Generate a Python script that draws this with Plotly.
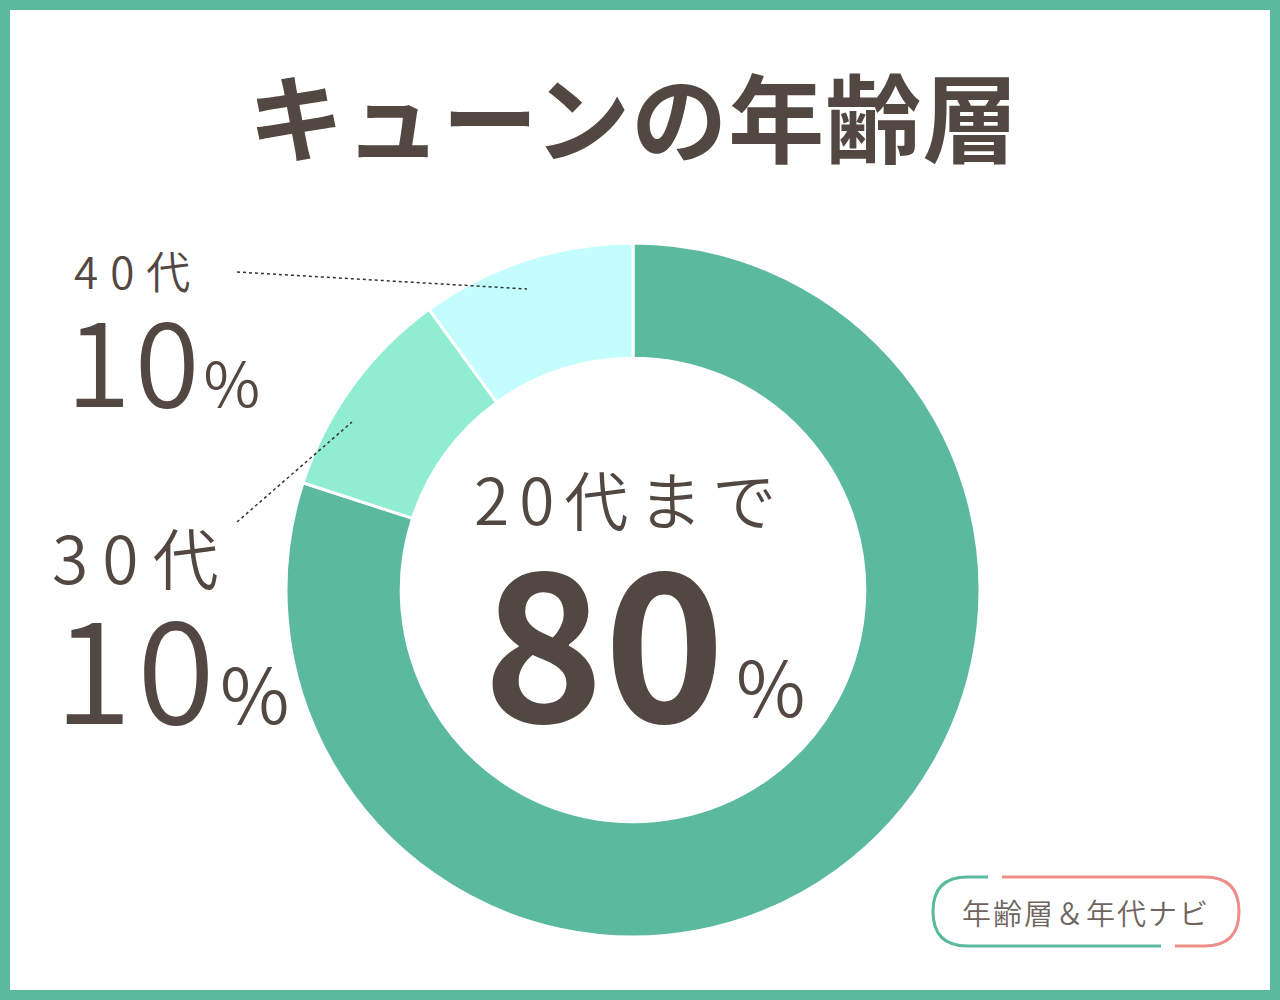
import plotly.graph_objects as go

# データ
labels = ["20代まで", "30代", "40代"]
values = [80, 10, 10]
colors = ["#5bba9d", "#90edd0", "#c3fdfd"]

title = "キューンの年齢層"
badge = "年齢層＆年代ナビ"

W, H = 1280, 1000
BROWN = "#524741"
FONT = "Noto Sans CJK JP"
LIGHT = 350

def px(x):
    return x / W

def py(y):
    return 1 - y / H

cx, cy, r = 633, 590, 347

fig = go.Figure(go.Pie(
    labels=labels, values=values,
    marker=dict(colors=colors, line=dict(color="white", width=3)),
    hole=0.668, sort=False, direction="clockwise", rotation=0,
    textinfo="none", hoverinfo="label+percent",
    domain=dict(x=[px(cx - r), px(cx + r)], y=[py(cy + r), py(cy - r)]),
))

def sp(text, ls):
    return f"<span style='letter-spacing:{ls}px'>{text}</span>"

anns = []
# タイトル
anns.append(dict(x=px(633), y=py(114), text=f"<b>{sp(title, 1)}</b>",
                 font=dict(size=96, color=BROWN, family=FONT)))

# 中央ラベル
anns.append(dict(x=px(630), y=py(497), text=sp(labels[0], 10),
                 font=dict(size=64, color=BROWN, family=FONT, weight=LIGHT)))
anns.append(dict(x=px(604), y=py(632), text=f"<b>{values[0]}</b>",
                 font=dict(size=205, color=BROWN, family=FONT)))
anns.append(dict(x=px(734), y=py(684), xanchor="left", text="%",
                 font=dict(size=76, color=BROWN, family=FONT, weight=LIGHT)))

# 40代
anns.append(dict(x=px(72), y=py(270), xanchor="left", text=sp(labels[2], 12),
                 font=dict(size=44, color=BROWN, family=FONT, weight=LIGHT)))
anns.append(dict(x=px(64), y=py(355), xanchor="left",
                 text=sp(f"{values[2]}", 4) + "<span style='font-size:62px'>%</span>",
                 font=dict(size=118, color=BROWN, family=FONT, weight=LIGHT)))

# 30代
anns.append(dict(x=px(50), y=py(555), xanchor="left", text=sp(labels[1], 14),
                 font=dict(size=66, color=BROWN, family=FONT, weight=LIGHT)))
anns.append(dict(x=px(52), y=py(662), xanchor="left",
                 text=sp(f"{values[1]}", 5) + "<span style='font-size:76px'>%</span>",
                 font=dict(size=142, color=BROWN, family=FONT, weight=LIGHT)))

# バッジ
anns.append(dict(x=px(1086), y=py(912), text=sp(badge, 2),
                 font=dict(size=29, color="#6f6560", family=FONT, weight=LIGHT)))

for a in anns:
    a.setdefault("xanchor", "center")
    a.update(xref="paper", yref="paper", showarrow=False, yanchor="middle")

shapes = []
# 引き出し線
shapes.append(dict(type="line", xref="paper", yref="paper",
                   x0=px(237), y0=py(272), x1=px(527), y1=py(289),
                   line=dict(color="#333", width=1.5, dash="dot")))
shapes.append(dict(type="line", xref="paper", yref="paper",
                   x0=px(237), y0=py(522), x1=px(352), y1=py(422),
                   line=dict(color="#333", width=1.5, dash="dot")))

# バッジ枠 (左:緑, 右:ピンク)
bx0, bx1, by0, by1 = 933, 1239, 877, 946
br = (by1 - by0) / 2
def P(x, y):
    return f"{px(x):.5f},{py(y):.5f}"

green_path = (f"M {P(988, by0)} L {P(bx0 + br, by0)} "
              f"Q {P(bx0, by0)} {P(bx0, by0 + br)} "
              f"Q {P(bx0, by1)} {P(bx0 + br, by1)} L {P(1161, by1)}")
pink_path = (f"M {P(1002, by0)} L {P(bx1 - br, by0)} "
             f"Q {P(bx1, by0)} {P(bx1, by0 + br)} "
             f"Q {P(bx1, by1)} {P(bx1 - br, by1)} L {P(1175, by1)}")
shapes.append(dict(type="path", xref="paper", yref="paper", path=green_path,
                   line=dict(color="#5bba9d", width=3)))
shapes.append(dict(type="path", xref="paper", yref="paper", path=pink_path,
                   line=dict(color="#ee8e8a", width=3)))

# 外枠
shapes.append(dict(type="rect", xref="paper", yref="paper",
                   x0=px(5), y0=py(995), x1=px(1275), y1=py(5),
                   line=dict(color="#5bba9d", width=10)))

fig.update_layout(
    width=W, height=H,
    margin=dict(l=0, r=0, t=0, b=0),
    paper_bgcolor="white", plot_bgcolor="white",
    showlegend=False,
    annotations=anns, shapes=shapes,
    font=dict(family=FONT),
)

fig.write_html("out.html", config={"displayModeBar": False},
               post_script="document.body.style.margin='0';"
                           "document.body.style.overflow='hidden';")
